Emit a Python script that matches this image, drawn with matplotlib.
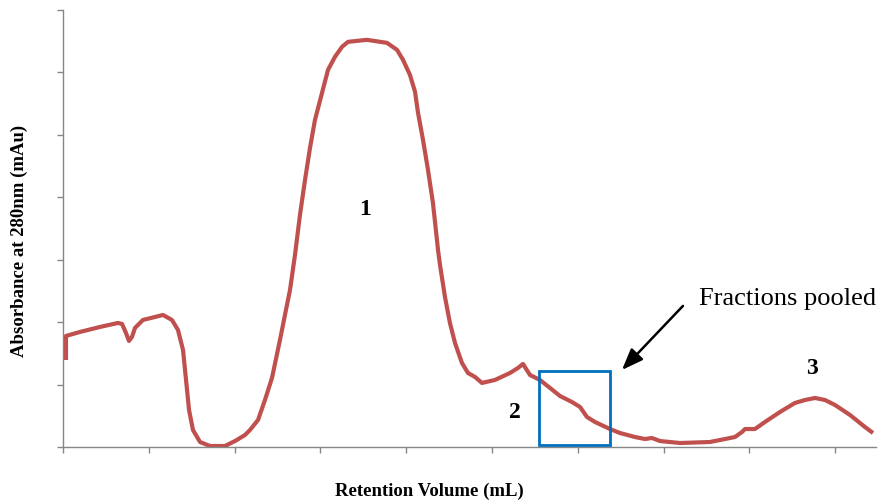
import matplotlib
matplotlib.use("Agg")
import matplotlib.pyplot as plt
from matplotlib.patches import Rectangle

# Retention volume (arbitrary units, one per tick) and absorbance (arbitrary units)
volume = [0.035, 0.035, 0.198, 0.431, 0.641, 0.688, 0.734, 0.769, 0.804, 0.839,
          0.932, 1.072, 1.166, 1.270, 1.340, 1.399, 1.434, 1.469, 1.515, 1.597,
          1.713, 1.888, 2.005, 2.121, 2.179, 2.273, 2.354, 2.436, 2.529, 2.587,
          2.646, 2.704, 2.762, 2.821, 2.879, 2.937, 3.019, 3.089, 3.170, 3.252,
          3.322, 3.543, 3.776, 3.893, 3.963, 4.044, 4.103, 4.138, 4.196, 4.254,
          4.312, 4.371, 4.394, 4.452, 4.510, 4.569, 4.650, 4.720, 4.802, 4.883,
          5.035, 5.210, 5.303, 5.361, 5.443, 5.559, 5.676, 5.793, 5.932, 6.026,
          6.107, 6.200, 6.375, 6.492, 6.667, 6.783, 6.865, 6.958, 7.191, 7.541,
          7.657, 7.832, 7.914, 7.949, 8.065, 8.182, 8.357, 8.531, 8.648, 8.765,
          8.881, 8.998, 9.173, 9.347, 9.441]
absorbance = [1.394, 1.779, 1.843, 1.923, 1.987, 1.971, 1.827, 1.699, 1.763, 1.907,
              2.035, 2.083, 2.115, 2.035, 1.875, 1.554, 1.074, 0.593, 0.272, 0.080,
              0.016, 0.016, 0.096, 0.192, 0.272, 0.433, 0.753, 1.106, 1.715, 2.115,
              2.516, 3.077, 3.718, 4.279, 4.792, 5.240, 5.673, 6.042, 6.250, 6.410,
              6.490, 6.522, 6.474, 6.362, 6.202, 5.960, 5.690, 5.353, 4.920, 4.439,
              3.910, 3.157, 2.917, 2.404, 1.987, 1.667, 1.346, 1.186, 1.122, 1.026,
              1.074, 1.186, 1.266, 1.330, 1.154, 1.074, 0.946, 0.817, 0.721, 0.641,
              0.481, 0.401, 0.288, 0.224, 0.160, 0.128, 0.144, 0.096, 0.064, 0.080,
              0.112, 0.160, 0.240, 0.288, 0.288, 0.401, 0.561, 0.705, 0.753, 0.785,
              0.753, 0.673, 0.513, 0.321, 0.224]

peak_labels = ["1", "2", "3"]
peak_x = [3.52, 5.27, 8.73]
peak_y = [3.81, 0.545, 1.25]

pool_start, pool_end = 5.548, 6.375
pool_low, pool_high = 0.032, 1.218
annotation_text = "Fractions pooled"

W, H = 881, 504
fig = plt.figure(figsize=(W / 100, H / 100), dpi=100)
ax = fig.add_axes([63 / W, 57 / H, 813 / W, 437 / H])

ax.plot(volume, absorbance, color="#C0504D", lw=3.0, solid_capstyle="butt",
        solid_joinstyle="round")

ax.set_xlim(0, 9.476)
ax.set_ylim(0, 7)
ax.set_xticks(range(0, 10))
ax.set_yticks(range(0, 8))
ax.set_xticklabels([])
ax.set_yticklabels([])
for s in ["top", "right"]:
    ax.spines[s].set_visible(False)
for s in ["left", "bottom"]:
    ax.spines[s].set_color("#868686")
    ax.spines[s].set_linewidth(1.0)
ax.tick_params(axis="both", direction="out", length=4, width=1, colors="#868686")
ax.spines["left"].set_zorder(0)

ax.add_patch(Rectangle((pool_start, pool_low), pool_end - pool_start,
                       pool_high - pool_low, fill=False, edgecolor="#0070C0",
                       lw=2.0, zorder=3))

serif = ["Liberation Serif", "DejaVu Serif"]
for lab, xx, yy in zip(peak_labels, peak_x, peak_y):
    ax.text(xx, yy, lab, ha="center", va="center", fontsize=17,
            fontweight="bold", family=serif)

ax.text(8.44, 2.37, annotation_text, ha="center", va="center", fontsize=19,
        family=serif)
ax.annotate("", xy=(6.515, 1.234), xytext=(7.226, 2.26),
            arrowprops=dict(arrowstyle="-|>,head_length=1.3,head_width=0.5",
                            color="black", lw=1.8, shrinkA=0, shrinkB=0))

fig.text(429.5 / W, 1 - 491 / H, "Retention Volume (mL)", ha="center",
         va="center", fontsize=13.5, fontweight="bold", family=serif)
fig.text(19 / W, 1 - 241 / H, "Absorbance at 280nm (mAu)", ha="center",
         va="center", rotation=90, fontsize=13.5, fontweight="bold", family=serif)

fig.savefig("out.png", dpi=100)
